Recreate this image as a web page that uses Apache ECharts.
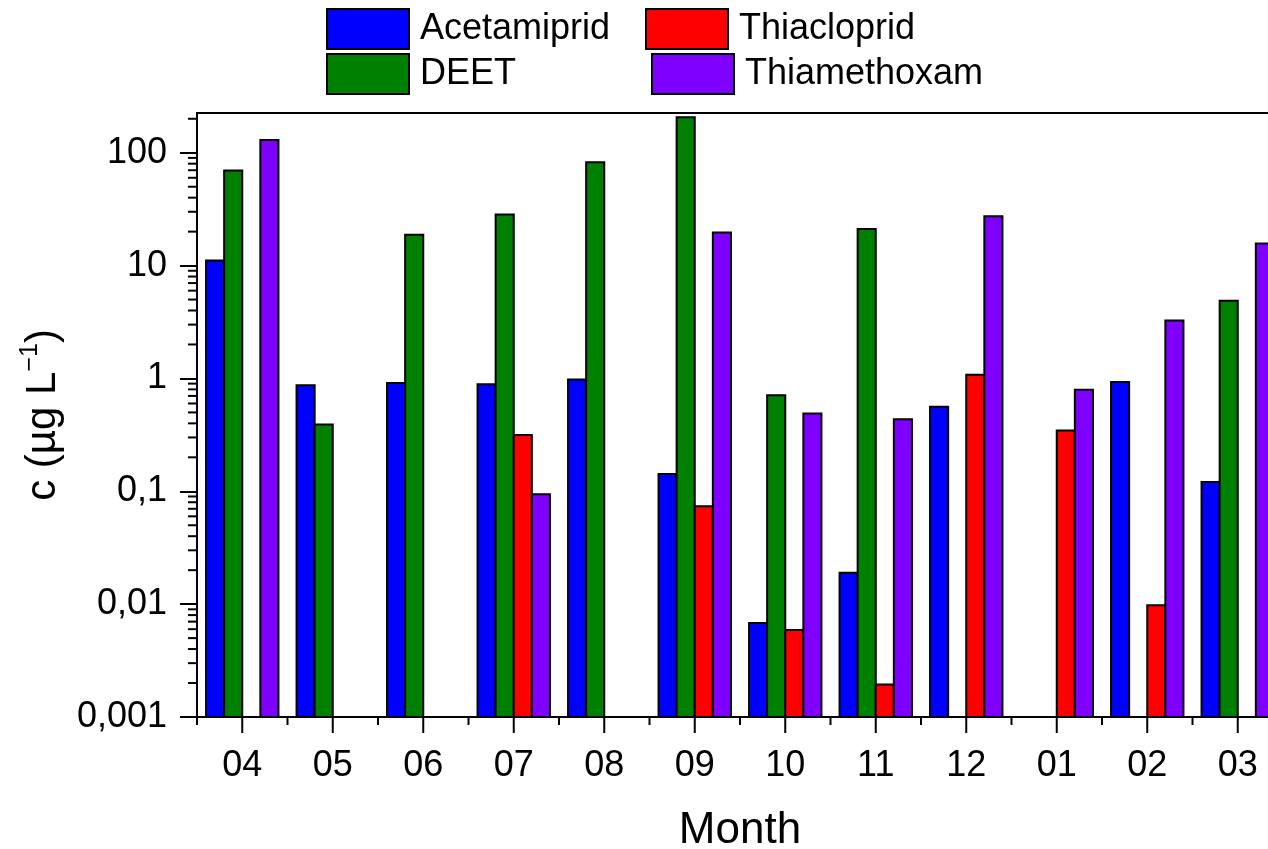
<!DOCTYPE html>
<html>
<head>
<meta charset="utf-8">
<script src="https://cdn.jsdelivr.net/npm/echarts@6/dist/echarts.min.js"></script>
<style>
html,body{margin:0;padding:0;background:#fff;overflow:hidden;}
#chart{width:1300px;height:849px;}
</style>
</head>
<body>
<div id="chart"></div>
<script>
// ---- data ----
const months = ['04','05','06','07','08','09','10','11','12','01','02','03'];
const acetamiprid  = [11.1, 0.87, 0.91, 0.89, 0.98, 0.142, 0.0068, 0.019, 0.56, null, 0.93, 0.121];
const deet         = [69.5, 0.39, 18.8, 28.3, 82.4, 206, 0.71, 21.1, null, null, null, 4.88];
const thiacloprid  = [null, null, null, 0.316, null, 0.0736, 0.0059, 0.00194, 1.08, 0.345, 0.0098, null];
const thiamethoxam = [130, null, null, 0.094, null, 19.6, 0.489, 0.436, 27.3, 0.796, 3.27, 15.7];
const seriesNames = ['Acetamiprid', 'DEET', 'Thiacloprid', 'Thiamethoxam'];
const yMin = 0.001, yMax = 225;
const decades = [0.001, 0.01, 0.1, 1, 10, 100];
const minorMultipliers = [2, 3, 4, 5, 6, 7, 8, 9];

const colors = ['#0000ff', '#008000', '#ff0000', '#8000ff'];
const FONT = 'Liberation Sans, Arial, sans-serif';

const chart = echarts.init(document.getElementById('chart'), null, {renderer: 'canvas'});

function toPairs(arr) {
  const out = [];
  arr.forEach((v, i) => { if (v != null) out.push([i, v]); });
  return out;
}

function barRenderer(slot, color) {
  return function (params, api) {
    const xi = api.value(0), v = api.value(1);
    const band = api.size([1, 0])[0];
    const w = band * 0.8 / 4;
    const top = api.coord([xi, v]);
    const base = api.coord([xi, yMin]);
    const x0 = top[0] - band * 0.4 + slot * w;
    return {
      type: 'rect',
      shape: {x: x0, y: top[1], width: w, height: base[1] - top[1]},
      style: {fill: color, stroke: '#000', lineWidth: 2}
    };
  };
}

const minorVals = [];
decades.forEach(d => minorMultipliers.forEach(m => { const v = m * d; if (v <= yMax) minorVals.push([0, v]); }));

function yMinorTickRenderer(params, api) {
  const band = api.size([1, 0])[0];
  const p = api.coord([0, api.value(1)]);
  const xl = p[0] - band / 2;
  return {
    type: 'line',
    shape: {x1: xl - 9, y1: p[1], x2: xl, y2: p[1]},
    style: {stroke: '#000', lineWidth: 2}
  };
}

// x ticks: long at each month (center), short at group boundaries
function xTickRenderer(params, api) {
  const xi = api.value(0);
  const band = api.size([1, 0])[0];
  const p = api.coord([xi, yMin]);
  const xb = p[0] - band / 2;
  return {
    type: 'group',
    children: [
      {type: 'line', shape: {x1: p[0], y1: p[1], x2: p[0], y2: p[1] + 16}, style: {stroke: '#000', lineWidth: 2}},
      {type: 'line', shape: {x1: xb, y1: p[1], x2: xb, y2: p[1] + 8}, style: {stroke: '#000', lineWidth: 2}}
    ]
  };
}

function fmtLog(v) {
  const e = Math.round(Math.log10(v));
  if (Math.abs(Math.log10(v) - e) > 1e-6) return '';
  if (e >= 0) return String(Math.pow(10, e));
  return '0,' + '0'.repeat(-e - 1) + '1';
}

const dataSets = [acetamiprid, deet, thiacloprid, thiamethoxam];

const series = dataSets.map((arr, k) => ({
  name: seriesNames[k],
  type: 'custom',
  renderItem: barRenderer(k, colors[k]),
  encode: {x: 0, y: 1},
  itemStyle: {color: colors[k], borderColor: '#000', borderWidth: 2},
  data: toPairs(arr),
  silent: true,
  animation: false
}));
series.push({
  name: 'yMinorTicks',
  type: 'custom',
  renderItem: yMinorTickRenderer,
  encode: {x: 0, y: 1},
  data: minorVals,
  silent: true,
  animation: false,
  clip: false
});
series.push({
  name: 'xTicks',
  type: 'custom',
  renderItem: xTickRenderer,
  encode: {x: 0, y: 1},
  data: months.map((m, i) => [i, yMin]),
  silent: true,
  animation: false,
  clip: false
});

const legendBase = {
  itemWidth: 82, itemHeight: 40, icon: 'rect', padding: 0,
  itemStyle: {borderColor: '#000', borderWidth: 2},
  textStyle: {fontSize: 36, color: '#000', fontFamily: FONT, padding: [0, 0, 0, 6]},
  selectedMode: false
};

const option = {
  backgroundColor: '#fff',
  animation: false,
  grid: {left: 197, right: 17, top: 113, bottom: 132, show: true, borderColor: '#000', borderWidth: 2,
         backgroundColor: 'transparent', containLabel: false, outerBoundsMode: 'none'},
  legend: [
    Object.assign({}, legendBase, {data: ['Acetamiprid'], left: 326, top: 8}),
    Object.assign({}, legendBase, {data: ['Thiacloprid'], left: 645, top: 8}),
    Object.assign({}, legendBase, {data: ['DEET'], left: 326, top: 53}),
    Object.assign({}, legendBase, {data: ['Thiamethoxam'], left: 651, top: 53})
  ],
  xAxis: {
    type: 'category', data: months, position: 'bottom',
    name: 'Month', nameLocation: 'middle', nameGap: 92,
    nameTextStyle: {fontSize: 44, color: '#000', fontFamily: FONT},
    axisLine: {lineStyle: {color: '#000', width: 2}},
    axisTick: {show: false},
    axisLabel: {fontSize: 36, color: '#000', fontFamily: FONT, margin: 31, interval: 0},
    splitLine: {show: false}
  },
  yAxis: {
    type: 'log', logBase: 10, min: yMin, max: yMax,
    name: '{a|c (µg L}{s|−1}{a|)}', nameLocation: 'middle', nameGap: 129,
    nameTextStyle: {
      rich: {
        a: {fontSize: 42, color: '#000', fontFamily: FONT, lineHeight: 50},
        s: {fontSize: 25, color: '#000', fontFamily: FONT, verticalAlign: 'top', lineHeight: 50}
      }
    },
    axisLine: {show: true, lineStyle: {color: '#000', width: 2}},
    axisTick: {show: true, length: 17, lineStyle: {color: '#000', width: 2}},
    axisLabel: {fontSize: 36, color: '#000', fontFamily: FONT, margin: 30, formatter: fmtLog, showMaxLabel: false},
    splitLine: {show: false}
  },
  series: series
};

chart.setOption(option);
</script>
</body>
</html>
